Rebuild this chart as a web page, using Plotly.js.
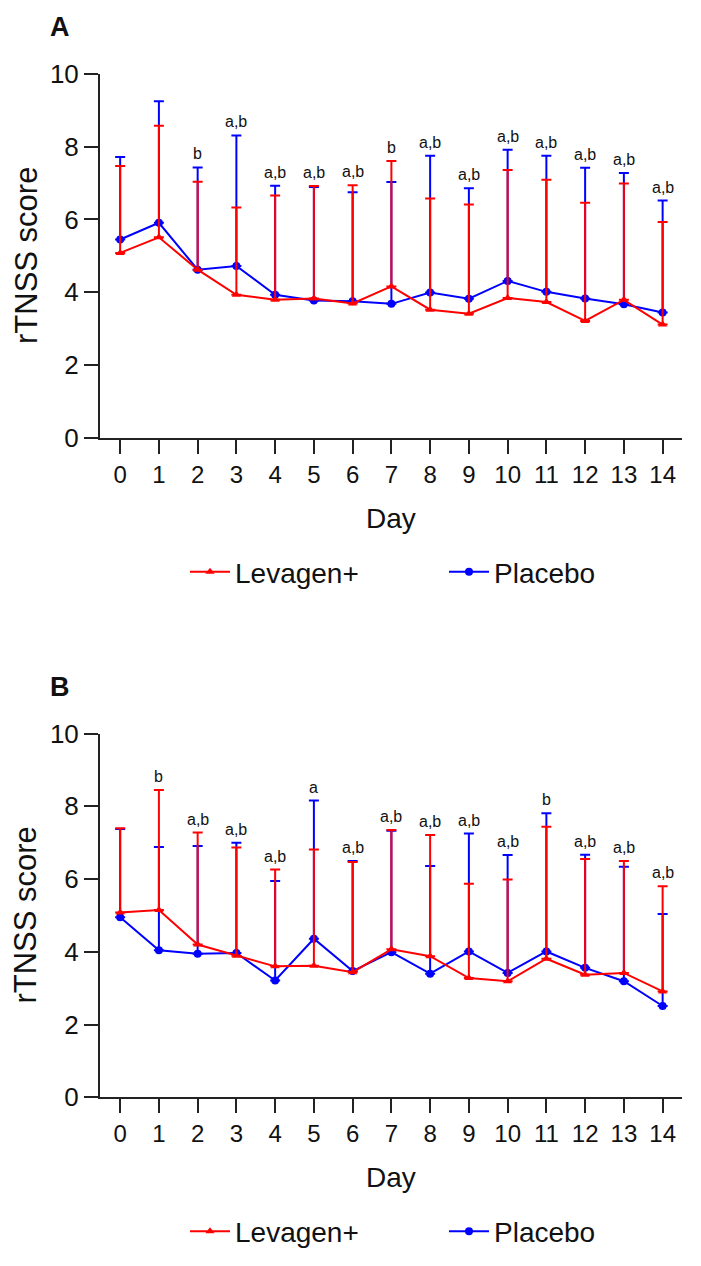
<!DOCTYPE html>
<html>
<head>
<meta charset="utf-8">
<script src="https://cdn.plot.ly/plotly-3.0.1.min.js"></script>
<style>
  html, body { margin: 0; padding: 0; background: #fff; overflow: hidden; }
  #chart { width: 701px; height: 1266px; }
</style>
</head>
<body>
<div id="chart"></div>
<script>
// days of follow-up
const days = [0, 1, 2, 3, 4, 5, 6, 7, 8, 9, 10, 11, 12, 13, 14];

// panel A: mean rTNSS and SD (upper bar only)
const levagenA   = [5.08, 5.51, 4.62, 3.93, 3.79, 3.83, 3.69, 4.16, 3.52, 3.41, 3.84, 3.73, 3.21, 3.79, 3.11];
const levagenSdA = [2.39, 3.07, 2.42, 2.40, 2.87, 3.09, 3.25, 3.45, 3.06, 3.00, 3.52, 3.36, 3.25, 3.20, 2.82];
const placeboA   = [5.45, 5.91, 4.62, 4.72, 3.93, 3.77, 3.75, 3.68, 3.99, 3.82, 4.31, 4.01, 3.83, 3.67, 3.44];
const placeboSdA = [2.27, 3.34, 2.81, 3.59, 3.00, 3.12, 3.00, 3.35, 3.76, 3.04, 3.61, 3.74, 3.59, 3.61, 3.08];
const sigA = ['', '', 'b', 'a,b', 'a,b', 'a,b', 'a,b', 'b', 'a,b', 'a,b', 'a,b', 'a,b', 'a,b', 'a,b', 'a,b'];

// panel B
const levagenB   = [5.08, 5.15, 4.20, 3.89, 3.60, 3.62, 3.44, 4.07, 3.88, 3.28, 3.19, 3.81, 3.37, 3.42, 2.91];
const levagenSdB = [2.32, 3.30, 3.08, 2.98, 2.66, 3.19, 3.03, 3.28, 3.33, 2.59, 2.80, 3.63, 3.18, 3.08, 2.89];
const placeboB   = [4.95, 4.04, 3.95, 3.97, 3.21, 4.36, 3.47, 3.99, 3.40, 4.01, 3.42, 4.01, 3.56, 3.19, 2.51];
const placeboSdB = [2.43, 2.84, 2.96, 3.03, 2.74, 3.80, 3.03, 3.34, 2.96, 3.24, 3.24, 3.80, 3.11, 3.15, 2.53];
const sigB = ['', 'b', 'a,b', 'a,b', 'a,b', 'a', 'a,b', 'a,b', 'a,b', 'a,b', 'a,b', 'b', 'a,b', 'a,b', 'a,b'];

const yTicks = [0, 2, 4, 6, 8, 10];

const W = 701, H = 1266;
const FONT = 'Liberation Sans, Arial, sans-serif';
const RED = '#ff0000', BLUE = '#0000ff';

// pixel -> paper
function px(x) { return x / W; }
function py(y) { return (H - y) / H; }

function zeros(n) { return new Array(n).fill(0); }

function makeTrace(y, sd, name, color, symbol, xa, ya, legend, rank, lw) {
    return {
        x: days, y: y,
        xaxis: xa, yaxis: ya,
        name: name,
        legend: legend,
        legendrank: rank,
        legendwidth: lw,
        mode: 'lines+markers',
        line: {color: color, width: 2},
        marker: {color: color, symbol: symbol, size: 8},
        error_y: {
            type: 'data', symmetric: false,
            array: sd, arrayminus: zeros(sd.length),
            color: color, thickness: 2, width: 5
        }
    };
}

// placebo drawn first so the red bars sit on top
const data = [
    makeTrace(placeboA, placeboSdA, 'Placebo', BLUE, 'circle', 'x', 'y', 'legend', 2, 110),
    makeTrace(levagenA, levagenSdA, 'Levagen+', RED, 'triangle-up', 'x', 'y', 'legend', 1, 204),
    makeTrace(placeboB, placeboSdB, 'Placebo', BLUE, 'circle', 'x2', 'y2', 'legend2', 2, 110),
    makeTrace(levagenB, levagenSdB, 'Levagen+', RED, 'triangle-up', 'x2', 'y2', 'legend2', 1, 204)
];

// significance letters sit above the higher of the two bars
function sigLabels(sig, m1, s1, m2, s2, xref, yref) {
    let out = [];
    sig.forEach((t, i) => {
        if (!t) return;
        out.push({
            x: days[i], y: Math.max(m1[i] + s1[i], m2[i] + s2[i]),
            xref: xref, yref: yref, text: t, showarrow: false,
            yanchor: 'bottom', yshift: 3,
            font: {family: FONT, size: 16, color: '#111'}
        });
    });
    return out;
}

function paperText(text, x, y, size, opts) {
    return Object.assign({
        x: px(x), y: py(y), xref: 'paper', yref: 'paper',
        text: text, showarrow: false,
        xanchor: 'center', yanchor: 'middle',
        font: {family: FONT, size: size, color: '#111'}
    }, opts || {});
}

const OFF = 659.6; // vertical offset of panel B

const annotations = [].concat(
    sigLabels(sigA, levagenA, levagenSdA, placeboA, placeboSdA, 'x', 'y'),
    sigLabels(sigB, levagenB, levagenSdB, placeboB, placeboSdB, 'x2', 'y2'),
    [
        paperText('<b>A</b>', 60, 27, 27),
        paperText('<b>B</b>', 60, 27 + OFF, 27),
        paperText('rTNSS score', 26, 256, 31, {textangle: -90}),
        paperText('rTNSS score', 26, 256 + OFF, 31, {textangle: -90}),
        paperText('Day', 391, 518, 28),
        paperText('Day', 391, 518 + OFF, 28)
    ]
);

function xAxis(anchor) {
    return {
        anchor: anchor,
        domain: [px(100), px(682)],
        range: [-0.52, 14.5],
        tickvals: days,
        ticks: 'outside', ticklen: 14, tickwidth: 2, tickcolor: '#222',
        showline: true, linecolor: '#222', linewidth: 2,
        showgrid: false, zeroline: false,
        tickfont: {family: FONT, size: 24, color: '#111'},
        fixedrange: true
    };
}

function yAxis(anchor, top, bottom) {
    return {
        anchor: anchor,
        domain: [py(bottom), py(top)],
        range: [0, 10],
        tickvals: yTicks,
        ticks: 'outside', ticklen: 14, tickwidth: 2, tickcolor: '#222',
        showline: true, linecolor: '#222', linewidth: 2,
        showgrid: false, zeroline: false,
        tickfont: {family: FONT, size: 26, color: '#111'},
        fixedrange: true
    };
}

function legendAt(yCenter) {
    return {
        orientation: 'h',
        x: px(185), xanchor: 'left',
        y: py(yCenter), yanchor: 'middle',
        font: {family: FONT, size: 28, color: '#111'},
        itemwidth: 40,
        bgcolor: 'rgba(0,0,0,0)'
    };
}

const layout = {
    width: W, height: H,
    margin: {l: 0, r: 0, t: 0, b: 0},
    paper_bgcolor: '#fff', plot_bgcolor: '#fff',
    font: {family: FONT, color: '#111'},
    showlegend: true,
    xaxis: xAxis('y'),
    yaxis: yAxis('x', 74, 437.7),
    xaxis2: xAxis('y2'),
    yaxis2: yAxis('x2', 74 + OFF, 437.7 + OFF),
    legend: legendAt(572),
    legend2: legendAt(572 + OFF),
    annotations: annotations
};

Plotly.newPlot('chart', data, layout, {displayModeBar: false, staticPlot: true});
</script>
</body>
</html>
